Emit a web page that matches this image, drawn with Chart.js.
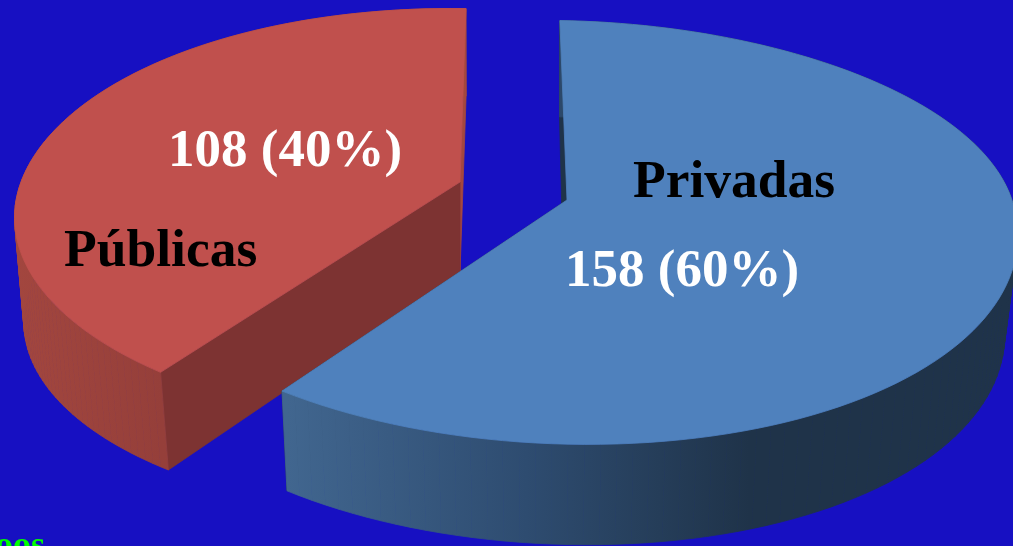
<!DOCTYPE html>
<html>
<head>
<meta charset="utf-8">
<style>
  html, body { margin: 0; padding: 0; background: #1710c2; overflow: hidden; }
  canvas { display: block; }
</style>
<script src="https://cdn.jsdelivr.net/npm/chart.js@4"></script>
</head>
<body>
<canvas id="pie3d" width="1013" height="546"></canvas>
<script>
// Chart values
const categories = ['Privadas', 'Públicas'];
const seriesValues = [158, 108];
const percentLabels = [60, 40];
const footerText = 'oos';

// Look of each slice: top and bottom disc views, wall colours, label spots
const sliceStyles = [
    {
        top: { cx: 567, cy: 200, a: 207, b: 445, k: 0.153, leanBack: -22, leanFront: 21, tilt: 0 },
        bottom: { cx: 564, cy: 298, a: 209, b: 435, k: 0.153, leanBack: -19, leanFront: 23, tilt: 0 },
        face: '#4f81bd',
        cut: '#1f3349',
        rear: '#1f3349',
        wall: [[0.284, '#41668f'], [0.52, '#2e4c70'], [0.74, '#1f3349'], [1, '#1f3349']],
        name: { x: 633, y: 197 },
        value: { x: 565, y: 286 }
    },
    {
        top: { cx: 460, cy: 182, a: 203, b: 439, k: 0.17, leanBack: -8.5, leanFront: 0, tilt: 0 },
        bottom: { cx: 460, cy: 272, a: 206, b: 430, k: 0.17, leanBack: -8, leanFront: 2.5, tilt: 14 },
        face: '#c0504d',
        cut: '#7d3332',
        rear: '#a4473f',
        wall: [[0, '#a4473f'], [0.16, '#953f3a'], [0.46, '#a4473f']],
        name: { x: 64, y: 266 },
        value: { x: 168, y: 166 }
    }
];

function project(view, angle) {
    const u = Math.cos(angle);
    const v = Math.sin(angle);
    const f = 1 / (1 - view.k * v);
    const lean = (v < 0 ? view.leanBack : view.leanFront) * v * v;
    return {
        x: view.cx + view.b * u * f + lean,
        y: view.cy + view.a * v * f + view.tilt * u * u
    };
}

function rimPoints(view, start, end) {
    const pts = [];
    const steps = 120;
    for (let i = 0; i <= steps; i++) {
        pts.push(project(view, start + (end - start) * i / steps));
    }
    return pts;
}

function fillPoly(ctx, pts, fill) {
    ctx.beginPath();
    pts.forEach((p, i) => i ? ctx.lineTo(p.x, p.y) : ctx.moveTo(p.x, p.y));
    ctx.closePath();
    ctx.fillStyle = fill;
    ctx.strokeStyle = fill;
    ctx.lineWidth = 0.8;
    ctx.fill();
    ctx.stroke();
}

// Replaces the flat pie with the extruded one, using the angles of the arcs
const extrudePlugin = {
    id: 'extrude',
    beforeDatasetDraw(chart) {
        const ctx = chart.ctx;
        const arcs = chart.getDatasetMeta(0).data;
        [1, 0].forEach(i => {
            const st = sliceStyles[i];
            const { startAngle, endAngle } = arcs[i].getProps(['startAngle', 'endAngle'], true);
            const topRim = rimPoints(st.top, startAngle, endAngle);
            const botRim = rimPoints(st.bottom, startAngle, endAngle);
            const topApex = { x: st.top.cx, y: st.top.cy };
            const botApex = { x: st.bottom.cx, y: st.bottom.cy };
            const last = topRim.length - 1;

            // cut faces: the red slice shows its front cut at the start angle
            const startFill = i === 1 ? st.cut : st.rear;
            const endFill = i === 1 ? st.rear : st.cut;
            fillPoly(ctx, [topApex, topRim[last], botRim[last], botApex], endFill);
            fillPoly(ctx, [topApex, topRim[0], botRim[0], botApex], startFill);

            // curved wall, quad by quad because the surface folds at its outline
            const grad = ctx.createLinearGradient(0, 0, chart.width, 0);
            st.wall.forEach(s => grad.addColorStop(s[0], s[1]));
            for (let q = 0; q < last; q++) {
                fillPoly(ctx, [topRim[q], topRim[q + 1], botRim[q + 1], botRim[q]], grad);
            }

            fillPoly(ctx, [topApex].concat(topRim), arcs[i].options.backgroundColor);
        });
        return false;
    },
    afterDatasetsDraw(chart) {
        const ctx = chart.ctx;
        ctx.textAlign = 'left';
        ctx.textBaseline = 'alphabetic';
        categories.forEach((name, i) => {
            const st = sliceStyles[i];
            ctx.font = 'bold 53.5px "Liberation Serif"';
            ctx.fillStyle = '#000000';
            ctx.fillText(name, st.name.x, st.name.y);
            ctx.font = 'bold 53px "Liberation Serif"';
            ctx.fillStyle = '#ffffff';
            ctx.fillText(seriesValues[i] + ' (' + percentLabels[i] + '%)', st.value.x, st.value.y);
        });
        ctx.font = 'bold 36px "Liberation Serif"';
        ctx.fillStyle = '#00ff00';
        ctx.fillText(footerText, -5, 556);
    }
};

new Chart(document.getElementById('pie3d'), {
    type: 'pie',
    data: {
        labels: categories,
        datasets: [{
            data: seriesValues,
            backgroundColor: sliceStyles.map(s => s.face),
            borderWidth: 0
        }]
    },
    options: {
        responsive: false,
        animation: false,
        rotation: 2.2,
        plugins: {
            legend: { display: false },
            tooltip: { enabled: false }
        }
    },
    plugins: [extrudePlugin]
});
</script>
</body>
</html>
